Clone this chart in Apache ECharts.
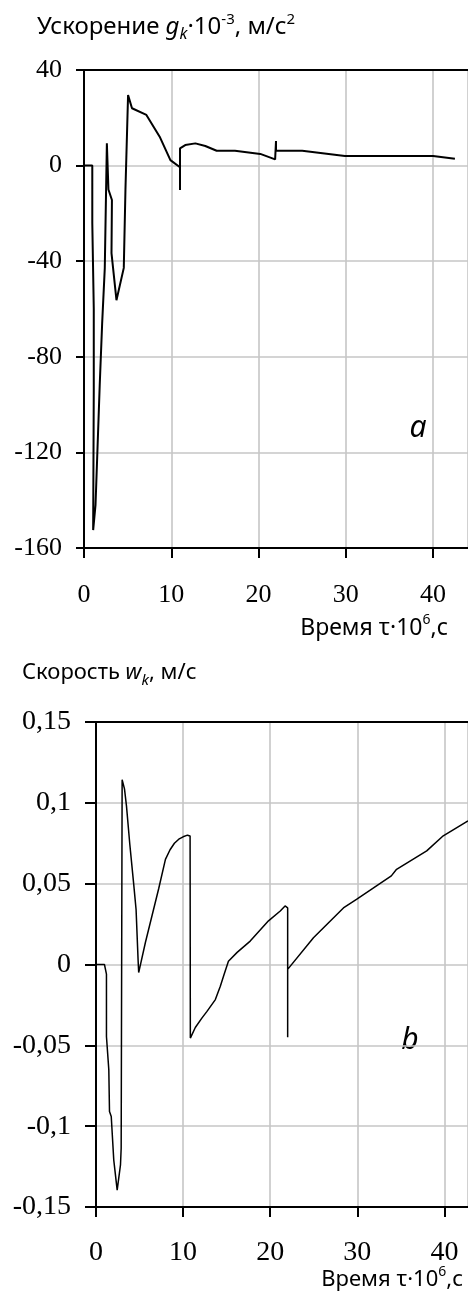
<!DOCTYPE html>
<html>
<head>
<meta charset="utf-8">
<script src="https://cdn.jsdelivr.net/npm/echarts@6/dist/echarts.min.js"></script>
<style>
html,body{margin:0;padding:0;background:#fff;}
#c{width:468px;height:1292px;}
</style>
</head>
<body>
<div id="c"></div>
<script>
// ---- Data ----
// Chart a: acceleration g_k·10^-3, m/s^2 vs time τ·10^6, s
const accTime  = [0, 0.95, 0.95, 1.12, 1.12, 1.05, 1.32, 1.8, 2.08, 2.38, 2.62, 2.76, 2.8, 3.2, 3.15, 3.72, 4.56, 4.75, 5.05, 5.5, 7.15, 8.67, 9.9, 11.0, 11.0, 11.0, 11.6, 12.76, 13.9, 15.2, 17.3, 20.2, 21.9, 22.0, 22.0, 22.1, 25.0, 29.9, 40.0, 42.5];
const accValue = [0, 0, -24, -60, -94, -152.5, -142, -92, -66, -43, 9.3, 9.3, -10, -14.4, -36.6, -56.3, -42.8, -10, 29.5, 24, 21.2, 12.1, 2.3, -0.7, -10.2, 7.2, 8.6, 9.3, 8.2, 6.2, 6.2, 4.9, 2.6, 10.3, 6.2, 6.2, 6.2, 4.0, 4.0, 2.9];
// Chart b: velocity w_k, m/s vs time τ·10^6, s
const velTime  = [0, 0.97, 1.2, 1.2, 1.47, 1.55, 1.75, 2.04, 2.43, 2.81, 2.89, 3.0, 3.27, 3.5, 3.88, 4.33, 4.6, 4.83, 4.9, 5.67, 7.2, 7.97, 8.5, 9.0, 9.5, 10.0, 10.5, 10.8, 10.83, 11.0, 11.4, 12.17, 12.74, 13.7, 14.27, 14.7, 15.2, 16.2, 17.7, 19.8, 21.15, 21.7, 22.0, 22.0, 22.0, 22.1, 24.96, 28.4, 29.9, 33.9, 34.5, 37.96, 39.86, 42.7];
const velValue = [0, 0, -0.006, -0.0445, -0.065, -0.091, -0.094, -0.121, -0.1396, -0.124, -0.1135, 0.1143, 0.1086, 0.098, 0.0744, 0.0496, 0.034, 0.003, -0.005, 0.0136, 0.047, 0.065, 0.071, 0.075, 0.0775, 0.079, 0.08, 0.0795, -0.0455, -0.045, -0.039, -0.033, -0.029, -0.0217, -0.0134, -0.0062, 0.002, 0.0075, 0.0145, 0.027, 0.0331, 0.0362, 0.035, -0.045, -0.003, -0.002, 0.0166, 0.035, 0.0403, 0.0548, 0.0589, 0.0703, 0.0796, 0.0889];
// Axis tick settings
const accTicks = {min: -160, max: 40, interval: 40};
const velTicks = {min: -0.15, max: 0.15, interval: 0.05};
const timeTicks = {min: 0, interval: 10};

const accData = accTime.map((t, i) => [t, accValue[i]]);
const velData = velTime.map((t, i) => [t, velValue[i]]);

const serif = 'Liberation Serif';
const sans = 'Noto Sans';
const gridColor = '#c6c6c6';

function xAxisMain(gi, max, fs, margin) {
  return {
    type: 'value', gridIndex: gi, min: timeTicks.min, max: max, interval: timeTicks.interval,
    position: 'bottom',
    axisLine: {show: true, onZero: false, lineStyle: {color: '#000', width: 2}},
    axisTick: {show: true, length: 10, lineStyle: {color: '#000', width: 2}},
    axisLabel: {
      margin: margin, fontFamily: serif, fontSize: fs, color: '#000', showMaxLabel: false,
      formatter: v => (Math.abs(v % 10) < 1e-9 ? String(v) : '')
    },
    splitLine: {show: true, lineStyle: {color: gridColor, width: 1.6}}
  };
}
function xAxisTop(gi, max) {
  return {
    type: 'value', gridIndex: gi, min: timeTicks.min, max: max, position: 'top',
    axisLine: {show: true, onZero: false, lineStyle: {color: '#000', width: 2}},
    axisTick: {show: false}, axisLabel: {show: false}, splitLine: {show: false}
  };
}
function yAxis(gi, ticks, fmt, tickLen, margin, fs) {
  return {
    type: 'value', gridIndex: gi, min: ticks.min, max: ticks.max, interval: ticks.interval,
    axisLine: {show: true, onZero: false, lineStyle: {color: '#000', width: 2}},
    axisTick: {show: true, length: tickLen, lineStyle: {color: '#000', width: 2}},
    axisLabel: {margin: margin, fontFamily: serif, fontSize: fs, color: '#000', formatter: fmt},
    splitLine: {show: true, lineStyle: {color: gridColor, width: 1.6}}
  };
}

const richBase = (fs) => ({
  n: {fontFamily: sans, fontSize: fs, lineHeight: 30, color: '#000'},
  i: {fontFamily: sans, fontSize: fs, fontStyle: 'italic', lineHeight: 30, color: '#000'},
  sub: {fontFamily: sans, fontSize: Math.round(fs * 0.68), fontStyle: 'italic', lineHeight: 14, verticalAlign: 'bottom', color: '#000'},
  sup: {fontFamily: sans, fontSize: Math.round(fs * 0.62), lineHeight: 14, verticalAlign: 'top', color: '#000'}
});

function richText(x, y, text, fs, align) {
  return {
    type: 'text', x: x, y: y, silent: true,
    style: {text: text, rich: richBase(fs), align: align || 'left', verticalAlign: 'middle',
            fontFamily: sans, fontSize: fs, fill: '#000'}
  };
}

const chart = echarts.init(document.getElementById('c'), null, {renderer: 'canvas'});
chart.setOption({
  animation: false,
  backgroundColor: '#fff',
  grid: [
    {left: 84, top: 70, width: 384, height: 478},
    {left: 96, top: 722, width: 372, height: 485}
  ],
  xAxis: [xAxisMain(0, 44, 26, 34), xAxisMain(1, 42.7, 28, 32), xAxisTop(0, 44), xAxisTop(1, 42.7)],
  yAxis: [
    yAxis(0, accTicks, v => String(v), 8, 22, 26),
    yAxis(1, velTicks, v => String(Math.round(v * 100) / 100).replace('.', ','), 11, 25, 28)
  ],
  series: [
    {type: 'line', xAxisIndex: 0, yAxisIndex: 0, data: accData, showSymbol: false,
     lineStyle: {color: '#000', width: 2}, itemStyle: {color: '#000'}},
    {type: 'line', xAxisIndex: 1, yAxisIndex: 1, data: velData, showSymbol: false,
     lineStyle: {color: '#000', width: 1.5}, itemStyle: {color: '#000'}}
  ],
  graphic: [
    richText(37, 27, '{n|Ускорение }{i|g}{sub|k}{n|·10}{sup|-3}{n|, м/с}{sup|2}', 24),
    richText(448, 628, '{n|Время τ·10}{sup|6}{n|,с}', 23, 'right'),
    richText(22, 673, '{n|Скорость }{i|w}{sub|k}{n|, м/с}', 22),
    richText(463, 1280, '{n|Время τ·10}{sup|6}{n|,с}', 22, 'right'),
    {type: 'text', x: 418, y: 428, silent: true,
     style: {text: 'a', fontFamily: sans, fontSize: 30, fontStyle: 'italic', fill: '#000', align: 'center', verticalAlign: 'middle'}},
    {type: 'text', x: 410, y: 1040, silent: true,
     style: {text: 'b', fontFamily: sans, fontSize: 30, fontStyle: 'italic', fill: '#000', align: 'center', verticalAlign: 'middle'}}
  ]
});
</script>
</body>
</html>
